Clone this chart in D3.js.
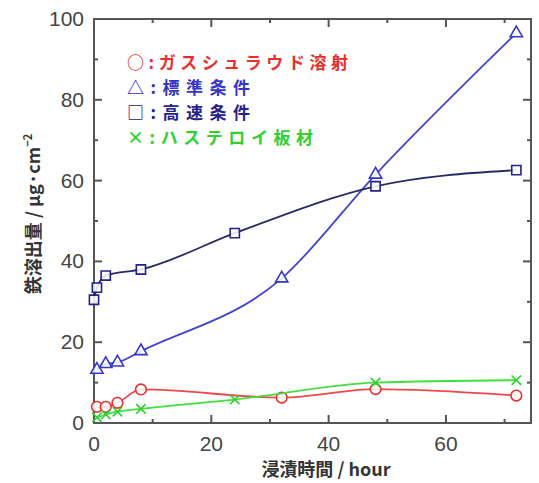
<!DOCTYPE html>
<html lang="ja">
<head>
<meta charset="UTF-8">
<title>Chart</title>
<style>
    body { margin: 0; background: #fff; }
    svg { display: block; }
    .tick-label { font-family: "Liberation Sans", Arial, sans-serif; font-size: 21px; fill: #444; }
    .jp { font-family: "Noto Sans CJK JP", sans-serif; }
</style>
</head>
<body>
<svg id="chart"></svg>
<script src="https://d3js.org/d3.v7.min.js"></script>
<script>
    // data
    var gasTime = [0.5, 2, 4, 8, 32, 48, 72]
    var gasValue = [4.0, 4.0, 5.0, 8.3, 6.3, 8.4, 6.8]
    var stdTime = [0.5, 2, 4, 8, 32, 48, 72]
    var stdValue = [13.2, 14.6, 15.0, 17.8, 35.8, 61.5, 96.5]
    var fastTime = [0, 0.5, 2, 8, 24, 48, 72]
    var fastValue = [30.5, 33.5, 36.5, 38.0, 47.0, 58.6, 62.6]
    var hasTime = [0.5, 2, 4, 8, 24, 48, 72]
    var hasValue = [1.4, 2.1, 2.8, 3.5, 5.8, 10.0, 10.6]
    var xTicks = [0, 20, 40, 60]
    var yTicks = [0, 20, 40, 60, 80, 100]
    var legendLabels = ['○:ガスシュラウド溶射', '△:標準条件', '□:高速条件', '×:ハステロイ板材']

    var svgWidth = 539, svgHeight = 483
    var svg = d3.select('#chart').attr('width', svgWidth).attr('height', svgHeight)

    // "top" is reserved on window, so use plot* names
    var plotLeft = 94, plotRight = 531, plotTop = 19, plotBottom = 423
    var x = d3.scaleLinear().domain([0, 74.5]).range([plotLeft, plotRight])
    var y = d3.scaleLinear().domain([0, 100]).range([plotBottom, plotTop])
    var axisColor = '#555'

    // frame
    svg.append('rect')
        .attr('x', plotLeft).attr('y', plotTop)
        .attr('width', plotRight - plotLeft).attr('height', plotBottom - plotTop)
        .attr('fill', 'none').attr('stroke', axisColor).attr('stroke-width', 2)

    // ticks, inward on all four sides
    var xMinor = d3.range(10, 74, 20)
    var yMinor = d3.range(10, 100, 20)
    function tickLines(vals, len, horizontal) {
        vals.forEach(function (v) {
            if (horizontal) {
                svg.append('line').attr('x1', x(v)).attr('x2', x(v)).attr('y1', plotBottom).attr('y2', plotBottom - len)
                    .attr('stroke', axisColor).attr('stroke-width', 2)
                svg.append('line').attr('x1', x(v)).attr('x2', x(v)).attr('y1', plotTop).attr('y2', plotTop + len)
                    .attr('stroke', axisColor).attr('stroke-width', 2)
            } else {
                svg.append('line').attr('x1', plotLeft).attr('x2', plotLeft + len).attr('y1', y(v)).attr('y2', y(v))
                    .attr('stroke', axisColor).attr('stroke-width', 2)
                svg.append('line').attr('x1', plotRight).attr('x2', plotRight - len).attr('y1', y(v)).attr('y2', y(v))
                    .attr('stroke', axisColor).attr('stroke-width', 2)
            }
        })
    }
    tickLines(xTicks, 8, true)
    tickLines(xMinor, 4, true)
    tickLines(yTicks, 8, false)
    tickLines(yMinor, 4, false)

    svg.selectAll('.xl').data(xTicks).enter().append('text')
        .attr('class', 'tick-label')
        .attr('x', function (d) { return x(d) }).attr('y', 451)
        .attr('text-anchor', 'middle')
        .text(function (d) { return d })
    svg.selectAll('.yl').data(yTicks).enter().append('text')
        .attr('class', 'tick-label')
        .attr('x', 84).attr('y', function (d) { return y(d) + 7 })
        .attr('text-anchor', 'end')
        .text(function (d) { return d })

    // axis titles
    svg.append('text').attr('class', 'jp')
        .attr('x', 326).attr('y', 476).attr('text-anchor', 'middle')
        .attr('font-size', 18).attr('font-weight', 'bold').attr('fill', '#333')
        .text('浸漬時間 / hour')
    var yt = svg.append('text').attr('class', 'jp')
        .attr('transform', 'translate(40,214) rotate(-90)')
        .attr('text-anchor', 'middle')
        .attr('font-size', 18).attr('font-weight', 'bold').attr('fill', '#333')
    yt.append('tspan').text('鉄溶出量 / μg·cm')
    yt.append('tspan').attr('dy', -8).attr('font-size', 11).text('−2')

    // series
    var series = [
        { t: gasTime, v: gasValue, line: '#f04848', mark: '#e83030', shape: 'circle' },
        { t: hasTime, v: hasValue, line: '#40e040', mark: '#30d030', shape: 'cross' },
        { t: stdTime, v: stdValue, line: '#4444d0', mark: '#3535c8', shape: 'triangle' },
        { t: fastTime, v: fastValue, line: '#2a2a66', mark: '#22228a', shape: 'square' }
    ]
    var line = d3.line()
        .x(function (d) { return x(d[0]) })
        .y(function (d) { return y(d[1]) })
        .curve(d3.curveMonotoneX)

    series.forEach(function (s) {
        var pts = s.t.map(function (t, i) { return [t, s.v[i]] })
        svg.append('path').datum(pts)
            .attr('d', line)
            .attr('fill', 'none').attr('stroke', s.line).attr('stroke-width', 1.8)
        var sym
        if (s.shape === 'circle') sym = d3.symbol(d3.symbolCircle, 90)
        else if (s.shape === 'square') sym = d3.symbol(d3.symbolSquare, 85)
        else if (s.shape === 'triangle') sym = d3.symbol(d3.symbolTriangle, 65)
        else sym = d3.symbol(d3.symbolX, 60)
        svg.selectAll(null).data(pts).enter().append('path')
            .attr('d', sym)
            .attr('transform', function (d) { return 'translate(' + x(d[0]) + ',' + y(d[1]) + ')' })
            .attr('fill', s.shape === 'cross' ? 'none' : '#fff')
            .attr('fill-opacity', 0.85)
            .attr('stroke', s.mark).attr('stroke-width', 1.6)
    })

    // legend
    var legendColors = ['#e83030', '#3535c8', '#22228a', '#30d030']
    var legendEnds = [348, 250, 250, 313]
    svg.selectAll('.leg').data(legendLabels).enter().append('text')
        .attr('class', 'jp')
        .attr('x', 127).attr('y', function (d, i) { return 69 + i * 25 })
        .attr('font-size', 17).attr('font-weight', 'bold')
        .attr('textLength', function (d, i) { return legendEnds[i] - 127 })
        .attr('lengthAdjust', 'spacing')
        .attr('fill', function (d, i) { return legendColors[i] })
        .text(function (d) { return d })
</script>
</body>
</html>
